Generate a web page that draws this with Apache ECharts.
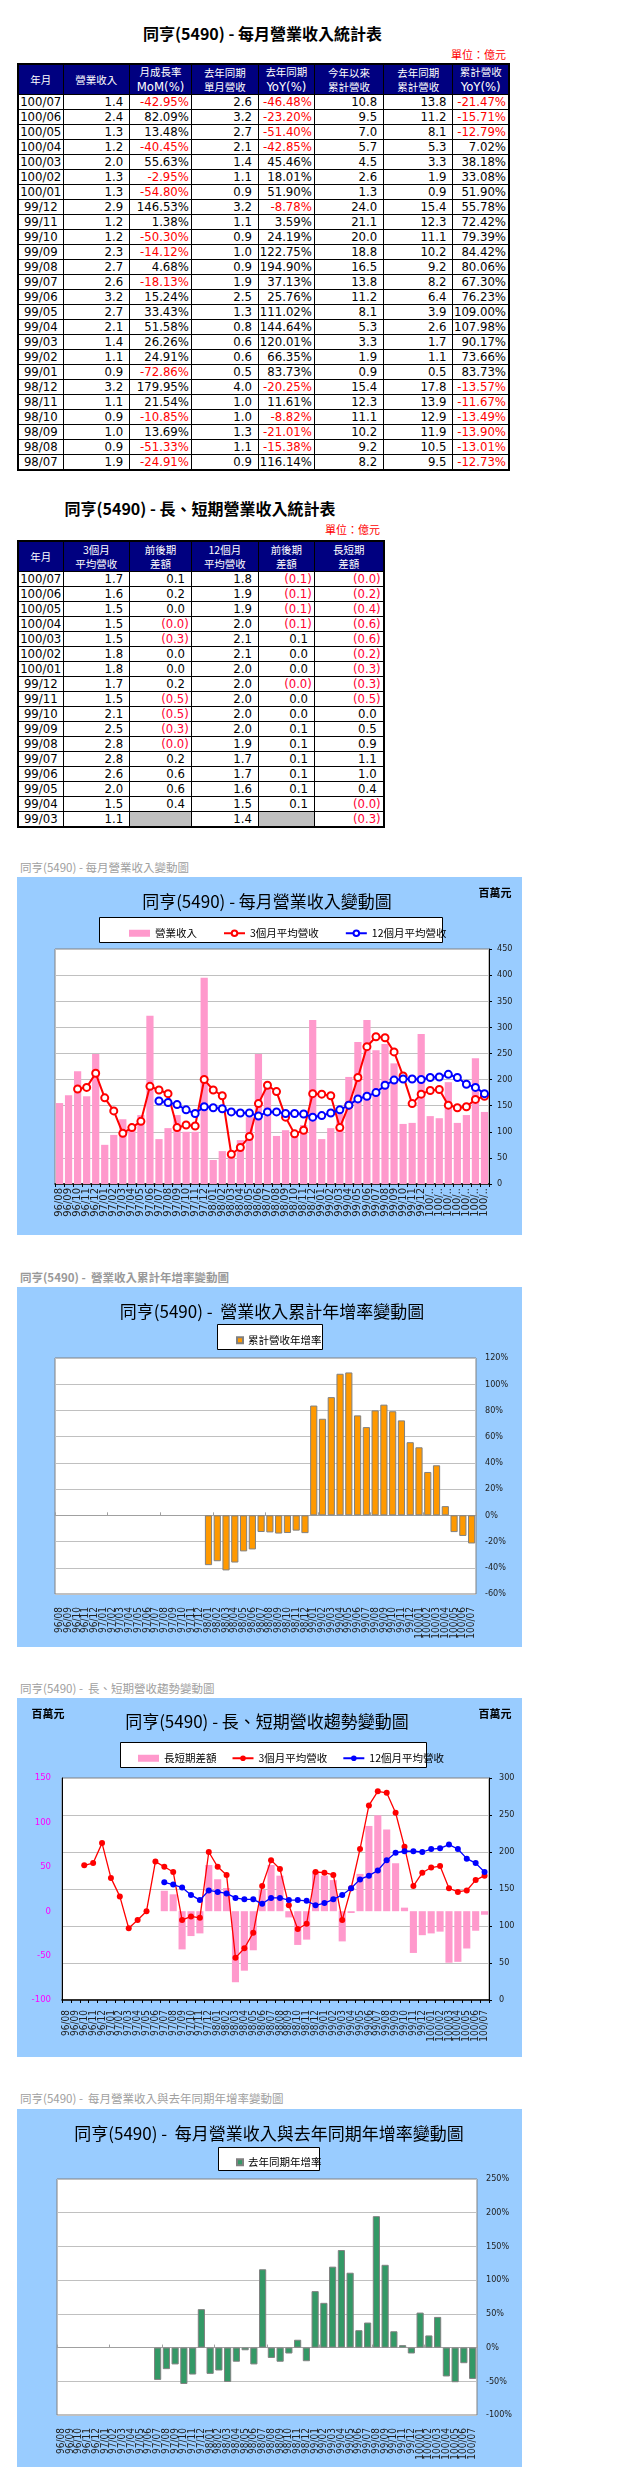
<!DOCTYPE html>
<html><head><meta charset="utf-8">
<script src="https://cdn.jsdelivr.net/npm/echarts@6/dist/echarts.min.js"></script>
<style>
html,body{margin:0;padding:0;background:#fff;}
body{width:634px;height:2491px;position:relative;overflow:hidden;}
.abs{position:absolute;}
.ttl{position:absolute;font-family:'Noto Sans CJK TC';font-weight:bold;font-size:16px;line-height:20px;text-align:center;color:#000;}
.unit{position:absolute;font-family:'Noto Sans CJK TC';font-size:11px;line-height:14px;color:#FF0000;text-align:right;}
table.t{position:absolute;border-collapse:collapse;table-layout:fixed;border:2px solid #000;font-family:'Liberation Sans Narrow','DejaVu Sans Condensed';font-size:13px;}
table.t td{border:1px solid #000;height:14px;line-height:14px;padding:0;text-align:right;white-space:nowrap;overflow:hidden;color:#000;}
table.t td.m{text-align:center;}
table.t td.n{padding-right:6px;}
table.t td.p{padding-right:2px;}
table.t th{background:#000080;color:#fff;border:1px solid #000;font-weight:normal;padding:0;height:29px;line-height:14px;font-family:'Noto Sans CJK TC';font-size:10.5px;}
table.t th .en{font-family:'Liberation Sans Narrow','DejaVu Sans Condensed';font-size:13px;line-height:15px;}
table.t td.neg{color:#FF0000;}
table.t td.neg2{color:#FF0033;}
table.t td.gray{background:#C0C0C0;}
.sub{position:absolute;left:20px;font-family:'Noto Sans CJK TC';font-size:11.5px;color:#A0A0A0;line-height:16px;white-space:pre;}
.panel{position:absolute;left:17px;width:505px;}
</style></head>
<body>
<div class="ttl" style="left:17px;width:491px;top:23px;">同亨(5490) - 每月營業收入統計表</div>
<div class="unit" style="left:17px;width:489px;top:47px;">單位：億元</div>
<div class="ttl" style="left:17px;width:366px;top:498px;">同亨(5490) - 長、短期營業收入統計表</div>
<div class="unit" style="left:17px;width:363px;top:522px;">單位：億元</div>

<div class="sub" style="top:859px;">同亨(5490) - 每月營業收入變動圖</div>
<div id="c1" class="panel" style="top:877px;height:358px;"></div>
<div class="sub" style="top:1269px;font-weight:bold;color:#999;">同亨(5490) -  營業收入累計年增率變動圖</div>
<div id="c2" class="panel" style="top:1287px;height:360px;"></div>
<div class="sub" style="top:1680px;">同亨(5490) -  長、短期營收趨勢變動圖</div>
<div id="c3" class="panel" style="top:1698px;height:359px;"></div>
<div class="sub" style="top:2090px;">同亨(5490) -  每月營業收入與去年同期年增率變動圖</div>
<div id="c4" class="panel" style="top:2109px;height:358px;"></div>

<script>
// ===== Table 1 data (億元 / %) =====
const months1 = ['100/07','100/06','100/05','100/04','100/03','100/02','100/01','99/12','99/11','99/10','99/09','99/08','99/07','99/06','99/05','99/04','99/03','99/02','99/01','98/12','98/11','98/10','98/09','98/08','98/07'];
const rev1    = [1.4,2.4,1.3,1.2,2.0,1.3,1.3,2.9,1.2,1.2,2.3,2.7,2.6,3.2,2.7,2.1,1.4,1.1,0.9,3.2,1.1,0.9,1.0,0.9,1.9];
const mom1    = [-42.95,82.09,13.48,-40.45,55.63,-2.95,-54.80,146.53,1.38,-50.30,-14.12,4.68,-18.13,15.24,33.43,51.58,26.26,24.91,-72.86,179.95,21.54,-10.85,13.69,-51.33,-24.91];
const prev1   = [2.6,3.2,2.7,2.1,1.4,1.1,0.9,3.2,1.1,0.9,1.0,0.9,1.9,2.5,1.3,0.8,0.6,0.6,0.5,4.0,1.0,1.0,1.3,1.1,0.9];
const yoy1    = [-46.48,-23.20,-51.40,-42.85,45.46,18.01,51.90,-8.78,3.59,24.19,122.75,194.90,37.13,25.76,111.02,144.64,120.01,66.35,83.73,-20.25,11.61,-8.82,-21.01,-15.38,116.14];
const ytd1    = [10.8,9.5,7.0,5.7,4.5,2.6,1.3,24.0,21.1,20.0,18.8,16.5,13.8,11.2,8.1,5.3,3.3,1.9,0.9,15.4,12.3,11.1,10.2,9.2,8.2];
const lytd1   = [13.8,11.2,8.1,5.3,3.3,1.9,0.9,15.4,12.3,11.1,10.2,9.2,8.2,6.4,3.9,2.6,1.7,1.1,0.5,17.8,13.9,12.9,11.9,10.5,9.5];
const ytdYoy1 = [-21.47,-15.71,-12.79,7.02,38.18,33.08,51.90,55.78,72.42,79.39,84.42,80.06,67.30,76.23,109.00,107.98,90.17,73.66,83.73,-13.57,-11.67,-13.49,-13.90,-13.01,-12.73];
const head1 = [['年月'],['營業收入'],['月成長率','MoM(%)'],['去年同期','單月營收'],['去年同期','YoY(%)'],['今年以來','累計營收'],['去年同期','累計營收'],['累計營收','YoY(%)']];

// ===== Table 2 data (億元) =====
const months2 = ['100/07','100/06','100/05','100/04','100/03','100/02','100/01','99/12','99/11','99/10','99/09','99/08','99/07','99/06','99/05','99/04','99/03'];
const avg3T   = [1.7,1.6,1.5,1.5,1.5,1.8,1.8,1.7,1.5,2.1,2.5,2.8,2.8,2.6,2.0,1.5,1.1];
const d3T     = [0.1,0.2,0.0,-0.01,-0.3,0.0,0.0,0.2,-0.5,-0.5,-0.3,-0.01,0.2,0.6,0.6,0.4,null];
const avg12T  = [1.8,1.9,1.9,2.0,2.1,2.1,2.0,2.0,2.0,2.0,2.0,1.9,1.7,1.7,1.6,1.5,1.4];
const d12T    = [-0.1,-0.1,-0.1,-0.1,0.1,0.0,0.0,-0.01,0.0,0.0,0.1,0.1,0.1,0.1,0.1,0.1,null];
const lsT     = [-0.01,-0.2,-0.4,-0.6,-0.6,-0.2,-0.3,-0.3,-0.5,0.0,0.5,0.9,1.1,1.0,0.4,-0.01,-0.3];
const head2 = [['年月'],['3個月','平均營收'],['前後期','差額'],['12個月','平均營收'],['前後期','差額'],['長短期','差額']];

// ===== Chart data (百萬元 / %), 96/08 .. 100/07 =====
const months = ['96/08','96/09','96/10','96/11','96/12','97/01','97/02','97/03','97/04','97/05','97/06','97/07','97/08','97/09','97/10','97/11','97/12','98/01','98/02','98/03','98/04','98/05','98/06','98/07','98/08','98/09','98/10','98/11','98/12','99/01','99/02','99/03','99/04','99/05','99/06','99/07','99/08','99/09','99/10','99/11','99/12','100/01','100/02','100/03','100/04','100/05','100/06','100/07'];
const revenueM = [155,170,216,168,249, 75,94,124,104,132,322,86,107,132,100,100,395, 46,63,62,84,128,249,190,92,103,90,113,314, 86,107,135,205,272,314,256,268,231,115,117,287, 130,126,195,117,132,241,138];
const avg3M = [null,null,182,185,212, 165,140,97,108,120,187,180,173,108,113,111,200, 180,169,57,70,91,154,189,177,128,96,103,173, 172,169,108,151,204,263,282,280,253,207,154,172, 179,181,151,146,148,162,168];
const avg12M = [null,null,null,null,null, null,null,null,null,null,null,159,156,152,142,135,148, 146,144,138,136,136,130,138,138,135,135,134,128, 131,136,142,151,163,168,175,189,199,201,201,200, 204,205,210,204,191,185,173];
const lsDiffM = [null,null,null,null,null, null,null,null,null,null,null,23,19,-43,-28,-25,52, 36,26,-80,-67,-44,24,52,40,-7,-38,-32,45, 40,35,-34,-2,42,96,108,92,54,4,-47,-27, -25,-23,-58,-57,-42,-22,-4];
const cumYoy = [null,null,null,null,null, null,null,null,null,null,null,null,null,null,null,null,null, -38,-35,-42,-36,-27.5,-26,-12.73,-13.01,-13.90,-13.49,-11.67,-13.57, 83.73,73.66,90.17,107.98,109.00,76.23,67.30,80.06,84.42,79.39,72.42,55.78, 51.90,33.08,38.18,7.02,-12.79,-15.71,-21.47];
const monthYoy = [null,null,null,null,null, null,null,null,null,null,null,-48,-32,-25,-54,-40,57, -39,-34,-51,-21,-4,-25,116.14,-15.38,-21.01,-8.82,11.61,-20.25, 83.73,66.35,120.01,144.64,111.02,25.76,37.13,194.90,122.75,24.19,3.59,-8.78, 51.90,18.01,45.46,-42.85,-51.40,-23.20,-46.48];

// ===== tables =====
function cNum(v){return {t:v.toFixed(1),c:'n'};}
function cPct(v){return {t:v.toFixed(2)+'%',c:'p'+(v<0?' neg':'')};}
function cPar(v){ if(v===null) return {t:'',c:'gray'}; return v<0?{t:'('+Math.abs(v).toFixed(1)+')',c:'p neg2'}:{t:v.toFixed(1),c:'n'}; }
function makeTable(left, top, widths, headers, rows){
  const tb=document.createElement('table'); tb.className='t';
  tb.style.left=left+'px'; tb.style.top=top+'px';
  tb.style.width=widths.reduce((a,b)=>a+b,0)+'px';
  let h='<colgroup>'+widths.map(w=>'<col style="width:'+w+'px">').join('')+'</colgroup>';
  h+='<tr>'+headers.map(hh=>'<th>'+hh.map(s=>'<div class="'+(/[A-Za-z]/.test(s)?'en':'')+'">'+s+'</div>').join('')+'</th>').join('')+'</tr>';
  rows.forEach(r=>{h+='<tr>'+r.map(c=>'<td class="'+c.c+'">'+c.t+'</td>').join('')+'</tr>';});
  tb.innerHTML=h; document.body.appendChild(tb);
}
makeTable(17,63,[45,66.7,61.7,67,56,69.3,69.3,56],head1,
  months1.map((m,i)=>[{t:m,c:'m'},cNum(rev1[i]),cPct(mom1[i]),cNum(prev1[i]),cPct(yoy1[i]),cNum(ytd1[i]),cNum(lytd1[i]),cPct(ytdYoy1[i])]));
makeTable(17,540,[45,66.7,61.7,67,56,69.3],head2,
  months2.map((m,i)=>[{t:m,c:'m'},cNum(avg3T[i]),cPar(d3T[i]),cNum(avg12T[i]),cPar(d12T[i]),cPar(lsT[i])]));

// ===== charts =====
const CJK='Noto Sans CJK TC';
const NUM='DejaVu Sans Condensed';
function txt(x,y,text,font){return {type:'text',x:x,y:y,z:10,style:{text:text,font:font,fill:'#000',textAlign:'center',textVerticalAlign:'middle',align:'center',verticalAlign:'middle'}};}
function box(x,y,w,h){return {type:'rect',z:0,shape:{x:x+0.5,y:y+0.5,width:w,height:h},style:{fill:'#fff',stroke:'#000',lineWidth:1}};}
const legendText={fontFamily:CJK,fontSize:10.5,color:'#000'};
const yLab={fontFamily:NUM,fontSize:9,color:'#222'};

// Chart 1
echarts.init(document.getElementById('c1')).setOption({
  animation:false, backgroundColor:'#99CCFF',
  graphic:[txt(250,25,'同亨(5490) - 每月營業收入變動圖','17px "Noto Sans CJK TC"'),
           txt(478,16,'百萬元','bold 11px "Noto Sans CJK TC"'),
           box(82,40,343,25)],
  legend:{left:107,top:46,itemGap:26,itemWidth:21,itemHeight:7,textStyle:legendText,
          data:[{name:'營業收入',icon:'rect'},'3個月平均營收','12個月平均營收']},
  grid:{left:38,right:33,top:72,bottom:51,show:true,backgroundColor:'#fff',borderColor:'#808080',borderWidth:1},
  xAxis:{type:'category',data:months,
    axisLabel:{rotate:90,interval:0,fontFamily:'DejaVu Sans',fontSize:10,color:'#222',margin:4,
      formatter:v=>v.indexOf('100/')===0?'100/..':v},
    axisTick:{show:true,length:3,lineStyle:{color:'#000'}},
    axisLine:{lineStyle:{color:'#000',width:1.5}}},
  yAxis:{type:'value',position:'right',min:0,max:450,interval:50,
    axisLine:{show:true,lineStyle:{color:'#000'}},axisTick:{show:true,length:3,lineStyle:{color:'#000'}},
    axisLabel:Object.assign({margin:8},yLab),splitLine:{lineStyle:{color:'#C0C0C0'}}},
  series:[
    {name:'營業收入',type:'bar',data:revenueM,barWidth:'80%',itemStyle:{color:'#FF99CC'}},
    {name:'3個月平均營收',type:'line',data:avg3M,symbol:'emptyCircle',symbolSize:7,
      lineStyle:{color:'#FF0000',width:2},itemStyle:{color:'#FF0000',borderWidth:1.5}},
    {name:'12個月平均營收',type:'line',data:avg12M,symbol:'emptyCircle',symbolSize:7,
      lineStyle:{color:'#0000FF',width:2},itemStyle:{color:'#0000FF',borderWidth:1.5}}
  ]
});

// Bar-rate chart builder (charts 2 & 4)
function rateChart(id, title, tx, legendName, legendBox, legendLeft, legendTop, grid, ymin, ymax, step, data, color){
  echarts.init(document.getElementById(id)).setOption({
    animation:false, backgroundColor:'#99CCFF',
    graphic:[txt(tx,24.5,title,'17px "Noto Sans CJK TC"'), box.apply(null,legendBox)],
    legend:{left:legendLeft,top:legendTop,itemWidth:6,itemHeight:6,textStyle:legendText,
      data:[{name:legendName,icon:'rect'}]},
    grid:Object.assign({show:true,backgroundColor:'#fff',borderColor:'#808080',borderWidth:1},grid),
    xAxis:[
      {type:'category',data:months,position:'bottom',
        axisLabel:{rotate:90,interval:0,fontFamily:NUM,fontSize:10,color:'#222',margin:13},
        axisTick:{show:false},axisLine:{show:false,onZero:false}},
      {type:'category',data:months,position:'top',
        axisLabel:{show:false},axisTick:{show:true,length:3,lineStyle:{color:'#A0A0A0'}},
        axisLine:{show:true,onZero:true,lineStyle:{color:'#A0A0A0'}}}
    ],
    yAxis:{type:'value',position:'right',min:ymin,max:ymax,interval:step,
      axisLine:{show:false},axisTick:{show:false},
      axisLabel:Object.assign({margin:9,formatter:'{value}%'},yLab),
      splitLine:{lineStyle:{color:'#C0C0C0'}}},
    series:[{name:legendName,type:'bar',xAxisIndex:0,data:data,barWidth:'82%',
      itemStyle:{color:color,borderColor:'#808080',borderWidth:1}}]
  });
}
rateChart('c2','同亨(5490) -  營業收入累計年增率變動圖',255,'累計營收年增率',[200,37,105,25],214,43,
  {left:38,right:46,top:71,bottom:53},-60,120,20,cumYoy,'#FF9900');

// Chart 3
echarts.init(document.getElementById('c3')).setOption({
  animation:false, backgroundColor:'#99CCFF',
  graphic:[txt(250,24,'同亨(5490) - 長、短期營收趨勢變動圖','17px "Noto Sans CJK TC"'),
           txt(31,16,'百萬元','bold 11px "Noto Sans CJK TC"'),
           txt(478,16,'百萬元','bold 11px "Noto Sans CJK TC"'),
           box(103,44,306,25)],
  legend:{left:116,top:50,itemGap:15,itemWidth:21,itemHeight:7,textStyle:legendText,
          data:[{name:'長短期差額',icon:'rect'},'3個月平均營收','12個月平均營收']},
  grid:{left:45,right:33,top:80,bottom:57,show:true,backgroundColor:'#fff',borderColor:'#808080',borderWidth:1},
  xAxis:{type:'category',data:months,
    axisLabel:{rotate:90,interval:0,fontFamily:NUM,fontSize:10,color:'#222',margin:10},
    axisTick:{show:true,length:3,lineStyle:{color:'#000'}},
    axisLine:{onZero:false,lineStyle:{color:'#000',width:1.5}}},
  yAxis:[
    {type:'value',position:'left',min:-100,max:150,interval:50,
      axisLine:{show:true,lineStyle:{color:'#000'}},axisTick:{show:false},
      axisLabel:{fontFamily:NUM,fontSize:9.5,color:'#FF00FF',margin:11},splitLine:{show:false}},
    {type:'value',position:'right',min:0,max:300,interval:50,
      axisLine:{show:true,lineStyle:{color:'#000'}},axisTick:{show:true,length:3,lineStyle:{color:'#000'}},
      axisLabel:Object.assign({margin:10},yLab),splitLine:{lineStyle:{color:'#C0C0C0'}}}
  ],
  series:[
    {name:'長短期差額',type:'bar',yAxisIndex:0,data:lsDiffM,barWidth:'80%',itemStyle:{color:'#FF99CC'}},
    {name:'3個月平均營收',type:'line',yAxisIndex:1,data:avg3M,symbol:'circle',symbolSize:6,
      lineStyle:{color:'#FF0000',width:1.3},itemStyle:{color:'#FF0000'}},
    {name:'12個月平均營收',type:'line',yAxisIndex:1,data:avg12M,symbol:'circle',symbolSize:6,
      lineStyle:{color:'#0000FF',width:1.3},itemStyle:{color:'#0000FF'}}
  ]
});

rateChart('c4','同亨(5490) -  每月營業收入與去年同期年增率變動圖',252,'去年同期年增率',[201,38,101,23],214,43,
  {left:40,right:45,top:70,bottom:52},-100,250,50,monthYoy,'#339966');
</script>
</body></html>
